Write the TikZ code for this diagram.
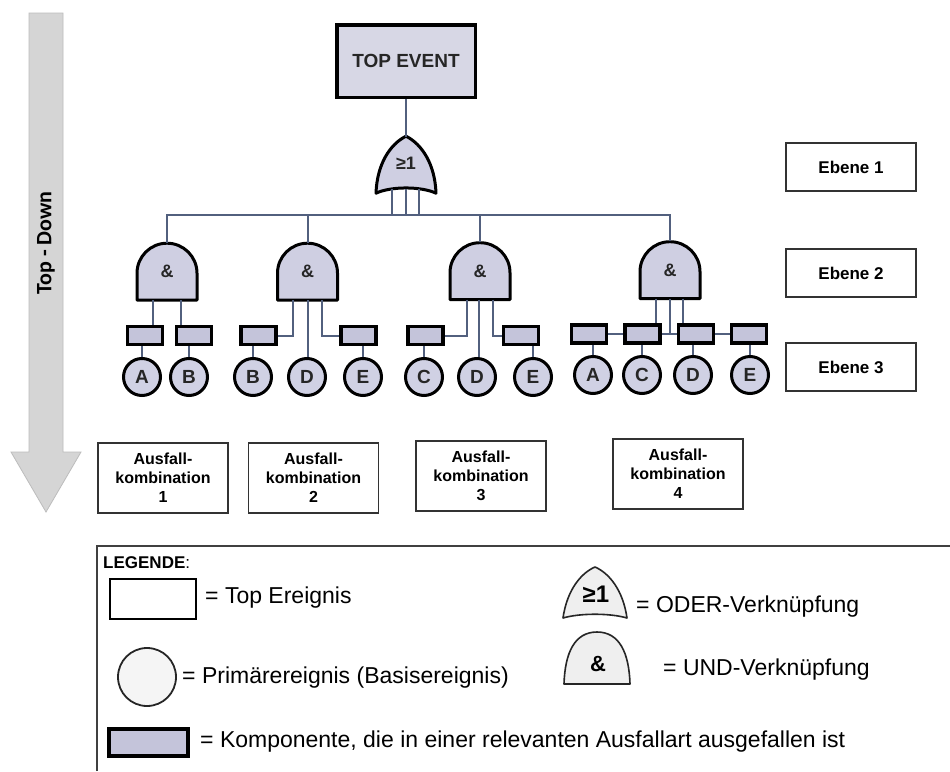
\documentclass[tikz,border=0pt]{standalone}
\usepackage{fontspec}
\setmainfont{Liberation Sans}
\newfontfamily\arrowfont{Carlito}
\usetikzlibrary{backgrounds,calc}

\definecolor{wirec}{HTML}{52607E}
\definecolor{gatefill}{HTML}{CFCFE2}
\definecolor{circfill}{HTML}{D0D1E4}
\definecolor{compfill}{HTML}{C4C4DA}
\definecolor{topfill}{HTML}{D7D7E5}
\definecolor{arrowfill}{HTML}{D5D5D5}
\definecolor{arrowedge}{HTML}{BDBDBD}
\definecolor{legfill}{HTML}{EFEFEF}

\begin{document}
\begin{tikzpicture}[x=1pt,y=-1pt,
  wire/.style={draw=wirec,line width=2pt},
  comp/.style={draw=black,line width=3.5pt,fill=compfill,minimum width=35pt,minimum height=18pt,inner sep=0pt},
  basic/.style={circle,draw=black,line width=3pt,fill=circfill,minimum size=37pt,inner sep=0pt,
    font=\bfseries\fontsize{19}{19}\selectfont,text=black!85},
  gatelabel/.style={inner sep=0pt,minimum width=60pt,minimum height=57pt,
    font=\bfseries\fontsize{18}{18}\selectfont,text=black!85},
  gateline/.style={draw=black,line width=3pt,fill=gatefill,line join=round},
  legline/.style={draw=black!85,line width=1.6pt,fill=legfill,line join=round},
  infobox/.style={draw=black!80,line width=1.3pt,fill=white,inner sep=0pt,align=center},
  legtext/.style={inner sep=0pt,font=\fontsize{23}{27}\selectfont},
  andshape/.pic={\path[gateline] (-30,0) -- (-30,-27) arc[start angle=180,end angle=360,radius=30] -- (30,0) -- cycle;},
  orshape/.pic={\path[gateline] (-30,5) .. controls (-29,-24) and (-16,-44) .. (0,-52)
     .. controls (16,-44) and (29,-24) .. (30,5) .. controls (15,-2) and (-15,-2) .. (-30,5) -- cycle;},
  legorshape/.pic={\path[legline] (-32,0) .. controls (-28,-28) and (-14,-45) .. (0,-51)
     .. controls (14,-45) and (28,-28) .. (32,0) .. controls (15,-5) and (-15,-5) .. (-32,0) -- cycle;},
  legandshape/.pic={\path[legline] (-33,0) .. controls (-32,-32) and (-22,-52) .. (0,-52)
     .. controls (22,-52) and (32,-32) .. (33,0) -- cycle;},
]
\useasboundingbox (0,0) rectangle (950,771);
\begin{pgfonlayer}{background}
  \fill[white] (0,0) rectangle (950,771);
\end{pgfonlayer}

% direction arrow on the left
\path[fill=arrowfill,draw=arrowedge,line width=0.8pt]
  (29,13) -- (63,13) -- (63,452) -- (81,452) -- (46,512) -- (11,452) -- (29,452) -- cycle;
\node[rotate=90,inner sep=0pt,font=\arrowfont\bfseries\fontsize{22}{22}\selectfont] (dir) at (46,243) {Top - Down};

% top event and OR gate
\node[draw=black,line width=3.5pt,fill=topfill,minimum width=138.5pt,minimum height=72.5pt,inner sep=0pt,
  font=\bfseries\fontsize{19}{19}\selectfont,text=black!85] (top) at (406,61) {TOP EVENT};
\node[gatelabel,minimum height=52pt] (or) at (406,163) {≥1};

% AND gates
\node[gatelabel] (g1) at (167,271.5) {\&};
\node[gatelabel] (g2) at (307.5,271.5) {\&};
\node[gatelabel] (g3) at (480,271) {\&};
\node[gatelabel] (g4) at (670,270) {\&};

\begin{pgfonlayer}{background}
  \pic at ($(or.south)+(0,-1)$) {orshape};
  \foreach \g in {g1,g2,g3,g4} { \pic at (\g.south) {andshape}; }
\end{pgfonlayer}

% components (failed)
\node[comp] (bA1) at (145,335.5) {};
\node[comp] (bB1) at (194,335.5) {};
\node[comp] (bB2) at (258.5,335.5) {};
\node[comp] (bE2) at (358.5,335.5) {};
\node[comp] (bC3) at (425.5,335.5) {};
\node[comp] (bE3) at (521,335.5) {};
\node[comp] (bA4) at (589,334) {};
\node[comp] (bC4) at (642.5,334) {};
\node[comp] (bD4) at (696,334) {};
\node[comp] (bE4) at (749,334) {};

% basic events
\node[basic] (cA1) at (142,377) {A};
\node[basic] (cB1) at (189,377) {B};
\node[basic] (cB2) at (253,377) {B};
\node[basic] (cD2) at (307,377) {D};
\node[basic] (cE2) at (363,377) {E};
\node[basic] (cC3) at (424,377) {C};
\node[basic] (cD3) at (477,377) {D};
\node[basic] (cE3) at (533,377) {E};
\node[basic] (cA4) at (593,375) {A};
\node[basic] (cC4) at (642,375) {C};
\node[basic] (cD4) at (693,375) {D};
\node[basic] (cE4) at (750,375) {E};

% gate input points
\coordinate (bus) at (406,215);
\coordinate (o1) at ($(or.south)+(-14,0)$);
\coordinate (o2) at ($(or.south)+(0,0)$);
\coordinate (o3) at ($(or.south)+(13,0)$);
\coordinate (i1a) at ($(g1.south)+(-14,0)$);
\coordinate (i1b) at ($(g1.south)+(14,0)$);
\coordinate (i2a) at ($(g2.south)+(-14.5,0)$);
\coordinate (i2b) at ($(g2.south)+(0,0)$);
\coordinate (i2c) at ($(g2.south)+(14,0)$);
\coordinate (i3a) at ($(g3.south)+(-13,0)$);
\coordinate (i3b) at ($(g3.south)+(-1,0)$);
\coordinate (i3c) at ($(g3.south)+(13,0)$);
\coordinate (i4a) at ($(g4.south)+(-14,0)$);
\coordinate (i4b) at ($(g4.south)+(0,0)$);
\coordinate (i4c) at ($(g4.south)+(13,0)$);

% connectors
\draw[wire] (top.south) -- (or.north);
\foreach \p in {o1,o2,o3} { \draw[wire] (\p) -- (\p |- bus); }
\draw[wire] (g1.north) |- (bus) -| (g4.north);
\draw[wire] (g2.north) -- (g2.north |- bus);
\draw[wire] (g3.north) -- (g3.north |- bus);

\draw[wire] (i1a) -- (i1a |- bA1.north);
\draw[wire] (i1b) -- (i1b |- bB1.north);
\draw[wire] (i2a) |- (bB2.east);
\draw[wire] (i2b) -- (i2b |- cD2.north);
\draw[wire] (i2c) |- (bE2.west);
\draw[wire] (i3a) |- (bC3.east);
\draw[wire] (i3b) -- (i3b |- cD3.north);
\draw[wire] (i3c) |- (bE3.west);
\draw[wire] (i4a) -- (i4a |- bC4.north);
\draw[wire] (i4b) -- (i4b |- bC4.east);
\draw[wire] (i4c) -- (i4c |- bD4.north);
\draw[wire] (bA4.east) -- (bC4.west);
\draw[wire] (bC4.east) -- (bD4.west);
\draw[wire] (bD4.east) -- (bE4.west);

\foreach \b/\c in {bA1/cA1,bB1/cB1,bB2/cB2,bE2/cE2,bC3/cC3,bE3/cE3,bA4/cA4,bC4/cC4,bD4/cD4,bE4/cE4}
  { \draw[wire] (\c.north) -- (\c.north |- \b.south); }

% level labels
\foreach \n/\y in {1/167,2/273,3/367}
  { \node[infobox,minimum width=130pt,minimum height=48pt,font=\bfseries\fontsize{17}{17}\selectfont] (lev\n) at (851,\y) {Ebene \n}; }

% failure combinations
\foreach \n/\x/\y in {1/163/478,2/313.5/478,3/481/476,4/678/474}
  { \node[infobox,minimum width=130pt,minimum height=70pt,font=\bfseries\fontsize{16}{19}\selectfont] (comb\n) at (\x,\y) {Ausfall-\\kombination\\\n}; }

% legend
\draw[draw=black!75,line width=1.3pt] (97,771) -- (97,546) -- (950,546);
\node[inner sep=0pt,anchor=base west] (legtitle) at (103,568) {\bfseries\fontsize{17}{17}\selectfont LEGENDE\mdseries:};

\node[draw=black,line width=1.6pt,fill=white,minimum width=86pt,minimum height=40pt,inner sep=0pt] (legtop) at (153,599) {};
\node[legtext,anchor=base west] (legtopt) at (205,603) {= Top Ereignis};

\node[circle,draw=black!85,line width=1.8pt,fill=white!96!black,minimum size=58pt,inner sep=0pt] (legcirc) at (147,677) {};
\node[legtext,anchor=base west] (legcirct) at (182,683) {= Primärereignis (Basisereignis)};

\node[comp,line width=4pt,minimum width=79pt,minimum height=27pt] (legcomp) at (148.5,742.5) {};
\node[legtext,anchor=base west] (legcompt) at (200,747) {= Komponente, die in einer relevanten Ausfallart ausgefallen ist};

\coordinate (legor) at (595,618);
\pic at (legor) {legorshape};
\node[inner sep=0pt,font=\bfseries\fontsize{24}{24}\selectfont] (legorl) at (596,594) {≥1};
\node[legtext,anchor=base west] (legort) at (636,612) {= ODER-Verknüpfung};

\coordinate (legand) at (597,684);
\pic at (legand) {legandshape};
\node[inner sep=0pt,font=\bfseries\fontsize{22}{22}\selectfont] (legandl) at (598,664) {\&};
\node[legtext,anchor=base west] (legandt) at (663,675) {= UND-Verknüpfung};
\end{tikzpicture}
\end{document}
